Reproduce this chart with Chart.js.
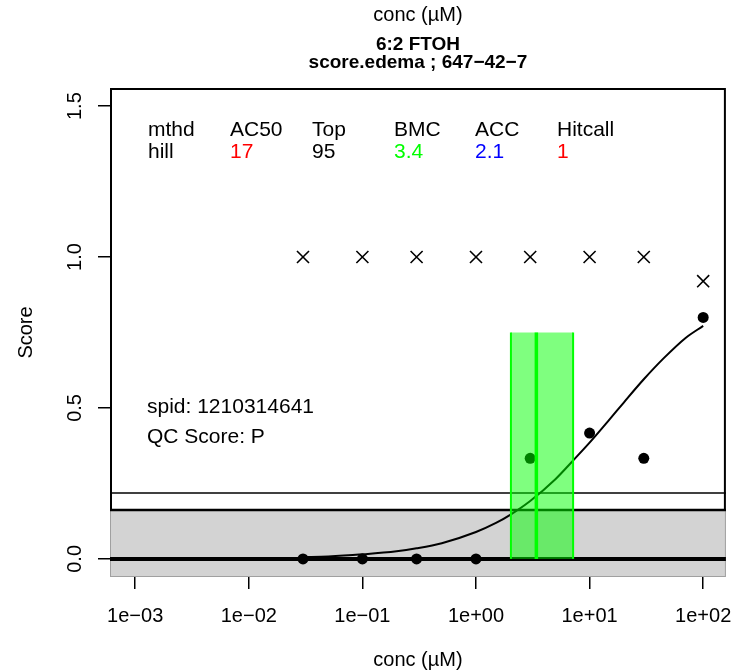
<!DOCTYPE html>
<html lang="en">
<head>
<meta charset="UTF-8">
<title>6:2 FTOH score.edema</title>
<script src="https://cdn.jsdelivr.net/npm/chart.js@4"></script>
<style>
  html, body { margin: 0; padding: 0; background: #fff; }
</style>
</head>
<body>
<canvas id="myChart" width="736" height="670"></canvas>
<script>
// measured responses (conc in uM)
const conc = [0.03, 0.1, 0.3, 1, 3, 10, 30, 100];
const score = [0, 0, 0, 0, 0.333, 0.417, 0.333, 0.8];
// cross markers
const crossScore = [1, 1, 1, 1, 1, 1, 1, 0.92];

// hill fit
const curveConc = [0.03, 0.05, 0.1, 0.2, 0.3, 0.5, 1, 1.5, 2, 3, 5, 7, 10, 15, 20, 30, 45, 70, 100];
const curveScore = [0.006, 0.008, 0.015, 0.025, 0.035, 0.052, 0.089, 0.119, 0.146, 0.192, 0.264, 0.322, 0.385, 0.462, 0.518, 0.595, 0.665, 0.732, 0.772];

// axes
const xTickValues = [1e-3, 1e-2, 1e-1, 1, 10, 100];
const xTickLabels = ['1e\u221203', '1e\u221202', '1e\u221201', '1e+00', '1e+01', '1e+02'];
const yTickValues = [0, 0.5, 1, 1.5];
const yTickLabels = ['0.0', '0.5', '1.0', '1.5'];

// cutoff / bmd lines
const cutoff = 0.162;
const bmr = 0.218;
const bmdRange = [2.03, 7.16];
const bmc = 3.4;
const bmdTop = 0.75;

// fit summary
const fitNames = ['mthd', 'AC50', 'Top', 'BMC', 'ACC', 'Hitcall'];
const fitValues = ['hill', '17', '95', '3.4', '2.1', '1'];
const fitColors = ['#000000', '#ff0000', '#000000', '#00ff00', '#0000ff', '#ff0000'];
const infoLines = ['spid: 1210314641', 'QC Score: P'];

const FONT = '"Liberation Sans", Arial, Helvetica, sans-serif';

const tcplPlugin = {
	id: 'tcpl',
	beforeDatasetsDraw(chart) {
		const { ctx, chartArea: a, scales: { y } } = chart;
		const yc = y.getPixelForValue(cutoff);
		ctx.save();
		// grey cutoff band
		ctx.fillStyle = '#d3d3d3';
		ctx.fillRect(a.left, yc, a.right - a.left, a.bottom - yc);
		ctx.strokeStyle = '#a0a0a0';
		ctx.lineWidth = 1;
		ctx.strokeRect(a.left + 0.5, yc, a.right - a.left - 1, a.bottom - yc - 0.5);
		// frame above it
		ctx.strokeStyle = '#000';
		ctx.lineWidth = 2;
		ctx.strokeRect(a.left + 1, a.top + 1, a.right - a.left - 2, yc - a.top - 1);

		const hline = (v, w) => {
			const py = y.getPixelForValue(v);
			ctx.lineWidth = w;
			ctx.beginPath();
			ctx.moveTo(a.left, py);
			ctx.lineTo(a.right, py);
			ctx.stroke();
		};
		hline(cutoff, 2.5);
		hline(bmr, 1.5);
		hline(0, 4);
		ctx.restore();
	},
	afterDatasetsDraw(chart) {
		const { ctx, scales: { x, y } } = chart;
		ctx.save();
		// bmd band
		const x1 = x.getPixelForValue(bmdRange[0]);
		const x2 = x.getPixelForValue(bmdRange[1]);
		const yt = y.getPixelForValue(bmdTop);
		const y0 = y.getPixelForValue(0);
		ctx.fillStyle = 'rgba(0,255,0,0.5)';
		ctx.fillRect(x1, yt, x2 - x1, y0 - yt);
		ctx.strokeStyle = '#00ff00';
		ctx.lineWidth = 2;
		[x1, x2].forEach(px => {
			ctx.beginPath(); ctx.moveTo(px, yt); ctx.lineTo(px, y0); ctx.stroke();
		});
		const xb = x.getPixelForValue(bmc);
		ctx.lineWidth = 3.5;
		ctx.beginPath(); ctx.moveTo(xb, yt); ctx.lineTo(xb, y0); ctx.stroke();
		ctx.restore();
	},
	afterDraw(chart) {
		const { ctx, chartArea: a, scales: { x, y } } = chart;
		const cx = (a.left + a.right) / 2;
		ctx.save();
		ctx.fillStyle = '#000';
		ctx.textBaseline = 'alphabetic';
		ctx.textAlign = 'center';

		// titles
		ctx.font = '20px ' + FONT;
		ctx.fillText('conc (\u00b5M)', cx, 21);
		ctx.fillText('conc (\u00b5M)', cx, 666);
		ctx.font = 'bold 19px ' + FONT;
		ctx.fillText('6:2 FTOH', cx, 50);
		ctx.fillText('score.edema ; 647\u221242\u22127', cx, 68);

		// x tick labels
		ctx.font = '20px ' + FONT;
		xTickValues.forEach((v, i) => {
			ctx.fillText(xTickLabels[i], x.getPixelForValue(v), 622);
		});

		// y tick labels + title, rotated
		yTickValues.forEach((v, i) => {
			ctx.save();
			ctx.translate(81, y.getPixelForValue(v));
			ctx.rotate(-Math.PI / 2);
			ctx.fillText(yTickLabels[i], 0, 0);
			ctx.restore();
		});
		ctx.save();
		ctx.translate(32, (a.top + a.bottom) / 2);
		ctx.rotate(-Math.PI / 2);
		ctx.fillText('Score', 0, 0);
		ctx.restore();

		// fit summary table
		ctx.textAlign = 'left';
		ctx.font = '21px ' + FONT;
		const colX = [148, 230, 312, 394, 475, 557];
		fitNames.forEach((n, i) => {
			ctx.fillStyle = '#000';
			ctx.fillText(n, colX[i], 136);
			ctx.fillStyle = fitColors[i];
			ctx.fillText(fitValues[i], colX[i], 158);
		});
		ctx.fillStyle = '#000';
		infoLines.forEach((t, i) => ctx.fillText(t, 147, 413 + i * 30));
		ctx.restore();
	}
};

const ctx = document.getElementById('myChart').getContext('2d');
const myChart = new Chart(ctx, {
	type: 'scatter',
	data: {
		datasets: [
			{
				label: 'fit',
				type: 'line',
				data: curveConc.map((c, i) => ({ x: c, y: curveScore[i] })),
				borderColor: '#000',
				borderWidth: 2,
				pointRadius: 0,
				fill: false,
				cubicInterpolationMode: 'monotone'
			},
			{
				label: 'resp',
				data: conc.map((c, i) => ({ x: c, y: score[i] })),
				pointStyle: 'circle',
				pointRadius: 5.5,
				backgroundColor: '#000',
				borderColor: '#000',
				borderWidth: 0
			},
			{
				label: 'max',
				data: conc.map((c, i) => ({ x: c, y: crossScore[i] })),
				pointStyle: 'crossRot',
				pointRadius: 8.5,
				borderColor: '#000',
				borderWidth: 1.6
			}
		]
	},
	options: {
		responsive: false,
		animation: false,
		layout: { padding: { left: 0, right: 9, top: 88, bottom: 0 } },
		plugins: {
			legend: { display: false },
			tooltip: { enabled: false }
		},
		scales: {
			x: {
				type: 'logarithmic',
				min: Math.pow(10, -3.2),
				max: Math.pow(10, 2.2),
				afterBuildTicks: s => { s.ticks = xTickValues.map(v => ({ value: v })); },
				afterFit: s => { s.height = 93; },
				ticks: { display: false },
				grid: { drawOnChartArea: false, drawTicks: true, tickLength: 12, color: '#000', lineWidth: 1.5 },
				border: { display: false }
			},
			y: {
				min: -0.06,
				max: 1.56,
				afterBuildTicks: s => { s.ticks = yTickValues.map(v => ({ value: v })); },
				afterFit: s => { s.width = 110; },
				ticks: { display: false },
				grid: { drawOnChartArea: false, drawTicks: true, tickLength: 12, color: '#000', lineWidth: 1.5 },
				border: { display: false }
			}
		}
	},
	plugins: [tcplPlugin]
});
</script>
</body>
</html>
